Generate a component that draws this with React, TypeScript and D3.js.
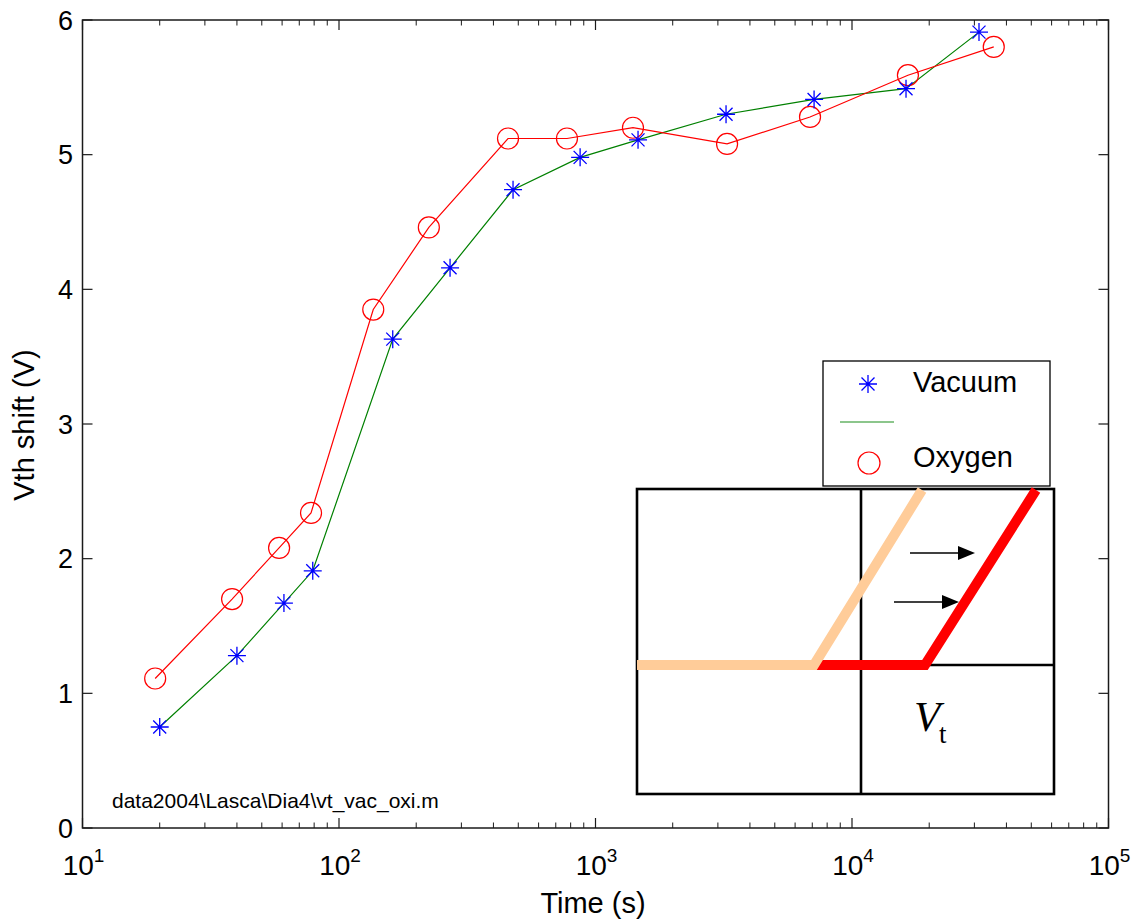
import React from "react";
import * as d3 from "d3";

const vacuumTime = [20, 40, 61, 79, 162, 271, 477, 871, 1465, 3228, 7115, 16240, 31270];
const vacuumShift = [0.75, 1.28, 1.67, 1.91, 3.63, 4.16, 4.74, 4.98, 5.11, 5.3, 5.41, 5.49, 5.91];
const oxygenTime = [19.2, 38.3, 58.4, 77.8, 136, 224, 456, 774, 1400, 3258, 6860, 16520, 35700];
const oxygenShift = [1.11, 1.7, 2.08, 2.34, 3.85, 4.46, 5.12, 5.12, 5.2, 5.08, 5.28, 5.59, 5.8];
const xMajorExps = [1, 2, 3, 4, 5];
const yTicks = [0, 1, 2, 3, 4, 5, 6];
const legendLabels = ["Vacuum", "Oxygen"];
const fileNote = "data2004\\Lasca\\Dia4\\vt_vac_oxi.m";

const W = 1135;
const H = 923;
const L = 82.5, R = 1108.5, T = 20, B = 828;
const FONT = "'Liberation Sans', Arial, Helvetica, sans-serif";

function Star({ x, y, s = 9, d = 6.5 }: { x: number; y: number; s?: number; d?: number }) {
  return (
    <path
      d={`M${x - s},${y}H${x + s}M${x},${y - s}V${y + s}M${x - d},${y - d}L${x + d},${y + d}M${x - d},${y + d}L${x + d},${y - d}`}
      stroke="#0000ff"
      strokeWidth={1.3}
      fill="none"
    />
  );
}

export default function App() {
  const x = d3.scaleLog().domain([10, 1e5]).range([L, R]);
  const y = d3.scaleLinear().domain([0, 6]).range([B, T]);

  const vac = vacuumTime.map((t, i) => [t, vacuumShift[i]] as [number, number]);
  const oxy = oxygenTime.map((t, i) => [t, oxygenShift[i]] as [number, number]);
  const line = d3
    .line<[number, number]>()
    .x((d) => x(d[0]))
    .y((d) => y(d[1]));

  const minor: number[] = [];
  for (let e = 1; e < 5; e++) for (let m = 2; m <= 9; m++) minor.push(m * Math.pow(10, e));

  const axisColor = "#1a1a1a";

  // inset geometry (pixel layout of pasted schematic)
  const ix0 = 637, ix1 = 1054, iy0 = 489, iy1 = 794, idiv = 861, ihy = 665;

  return (
    <svg
      width={W}
      height={H}
      style={{ position: "absolute", left: 0, top: 0, background: "#fff" }}
      fontFamily={FONT}
    >
      <rect x={0} y={0} width={W} height={H} fill="#fff" />

      {/* data lines */}
      <path d={line(vac) || ""} fill="none" stroke="#008000" strokeWidth={1.2} />
      <path d={line(oxy) || ""} fill="none" stroke="#ff0000" strokeWidth={1.2} />
      {oxy.map((d, i) => (
        <circle key={"o" + i} cx={x(d[0])} cy={y(d[1])} r={10.5} fill="none" stroke="#ff0000" strokeWidth={1.2} />
      ))}
      {vac.map((d, i) => (
        <Star key={"v" + i} x={x(d[0])} y={y(d[1])} />
      ))}

      {/* axes box */}
      <rect x={L} y={T} width={R - L} height={B - T} fill="none" stroke={axisColor} strokeWidth={1.5} />

      {/* x ticks */}
      {xMajorExps.map((e) => {
        const px = x(Math.pow(10, e));
        return (
          <g key={"xm" + e}>
            <line x1={px} x2={px} y1={B} y2={B - 10} stroke={axisColor} strokeWidth={1.2} />
            <line x1={px} x2={px} y1={T} y2={T + 10} stroke={axisColor} strokeWidth={1.2} />
            <text x={px + 1} y={875} fontSize={28} textAnchor="middle" fill="#000">
              10
              <tspan dy={-13} fontSize={19}>
                {e}
              </tspan>
            </text>
          </g>
        );
      })}
      {minor.map((v) => {
        const px = x(v);
        return (
          <g key={"xn" + v}>
            <line x1={px} x2={px} y1={B} y2={B - 5.5} stroke={axisColor} strokeWidth={1} />
            <line x1={px} x2={px} y1={T} y2={T + 5.5} stroke={axisColor} strokeWidth={1} />
          </g>
        );
      })}

      {/* y ticks */}
      {yTicks.map((v) => {
        const py = y(v);
        return (
          <g key={"y" + v}>
            <line x1={L} x2={L + 10} y1={py} y2={py} stroke={axisColor} strokeWidth={1.2} />
            <line x1={R} x2={R - 10} y1={py} y2={py} stroke={axisColor} strokeWidth={1.2} />
            <text x={73} y={py + 9.5} fontSize={27} textAnchor="end" fill="#000">
              {v}
            </text>
          </g>
        );
      })}

      {/* axis titles */}
      <text x={593} y={913} fontSize={29} textAnchor="middle" fill="#000">
        Time (s)
      </text>
      <text
        transform={`translate(34,425) rotate(-90)`}
        fontSize={29}
        textAnchor="middle"
        fill="#000"
      >
        Vth shift (V)
      </text>

      {/* file note */}
      <text x={112} y={808} fontSize={21} fill="#000">
        {fileNote}
      </text>

      {/* inset schematic */}
      <rect x={ix0} y={iy0} width={ix1 - ix0} height={iy1 - iy0} fill="#fff" stroke="#000" strokeWidth={2.6} />
      <line x1={idiv} x2={idiv} y1={iy0} y2={iy1} stroke="#000" strokeWidth={2.6} />
      <line x1={idiv} x2={ix1} y1={ihy} y2={ihy} stroke="#000" strokeWidth={2.6} />
      <polyline points={`814,665 925,665 1036,490`} fill="none" stroke="#ff0000" strokeWidth={10} />
      <polyline points={`${ix0},665 814,665 922,490`} fill="none" stroke="#ffcc99" strokeWidth={10} />
      <line x1={910} x2={960} y1={553} y2={553} stroke="#000" strokeWidth={1.5} />
      <path d="M958,546L975,553L958,560Z" fill="#000" />
      <line x1={894} x2={944} y1={602} y2={602} stroke="#000" strokeWidth={1.5} />
      <path d="M942,595L959,602L942,609Z" fill="#000" />
      <text x={914} y={731} fontSize={43} fontStyle="italic" fontFamily="'Liberation Serif', 'Times New Roman', serif" fill="#000">
        V
      </text>
      <text x={939} y={743} fontSize={27} fontFamily="'Liberation Serif', 'Times New Roman', serif" fill="#000">
        t
      </text>

      {/* legend */}
      <rect x={823} y={361} width={227} height={125} fill="#fff" stroke="#000" strokeWidth={1.3} />
      <Star x={868} y={384} />
      <line x1={840} x2={894} y1={422} y2={422} stroke="#66b366" strokeWidth={1.6} />
      <circle cx={869} cy={463} r={11} fill="none" stroke="#ff0000" strokeWidth={1.2} />
      <text x={913} y={392} fontSize={29} fill="#000">
        {legendLabels[0]}
      </text>
      <text x={913} y={467} fontSize={29} fill="#000">
        {legendLabels[1]}
      </text>
    </svg>
  );
}
